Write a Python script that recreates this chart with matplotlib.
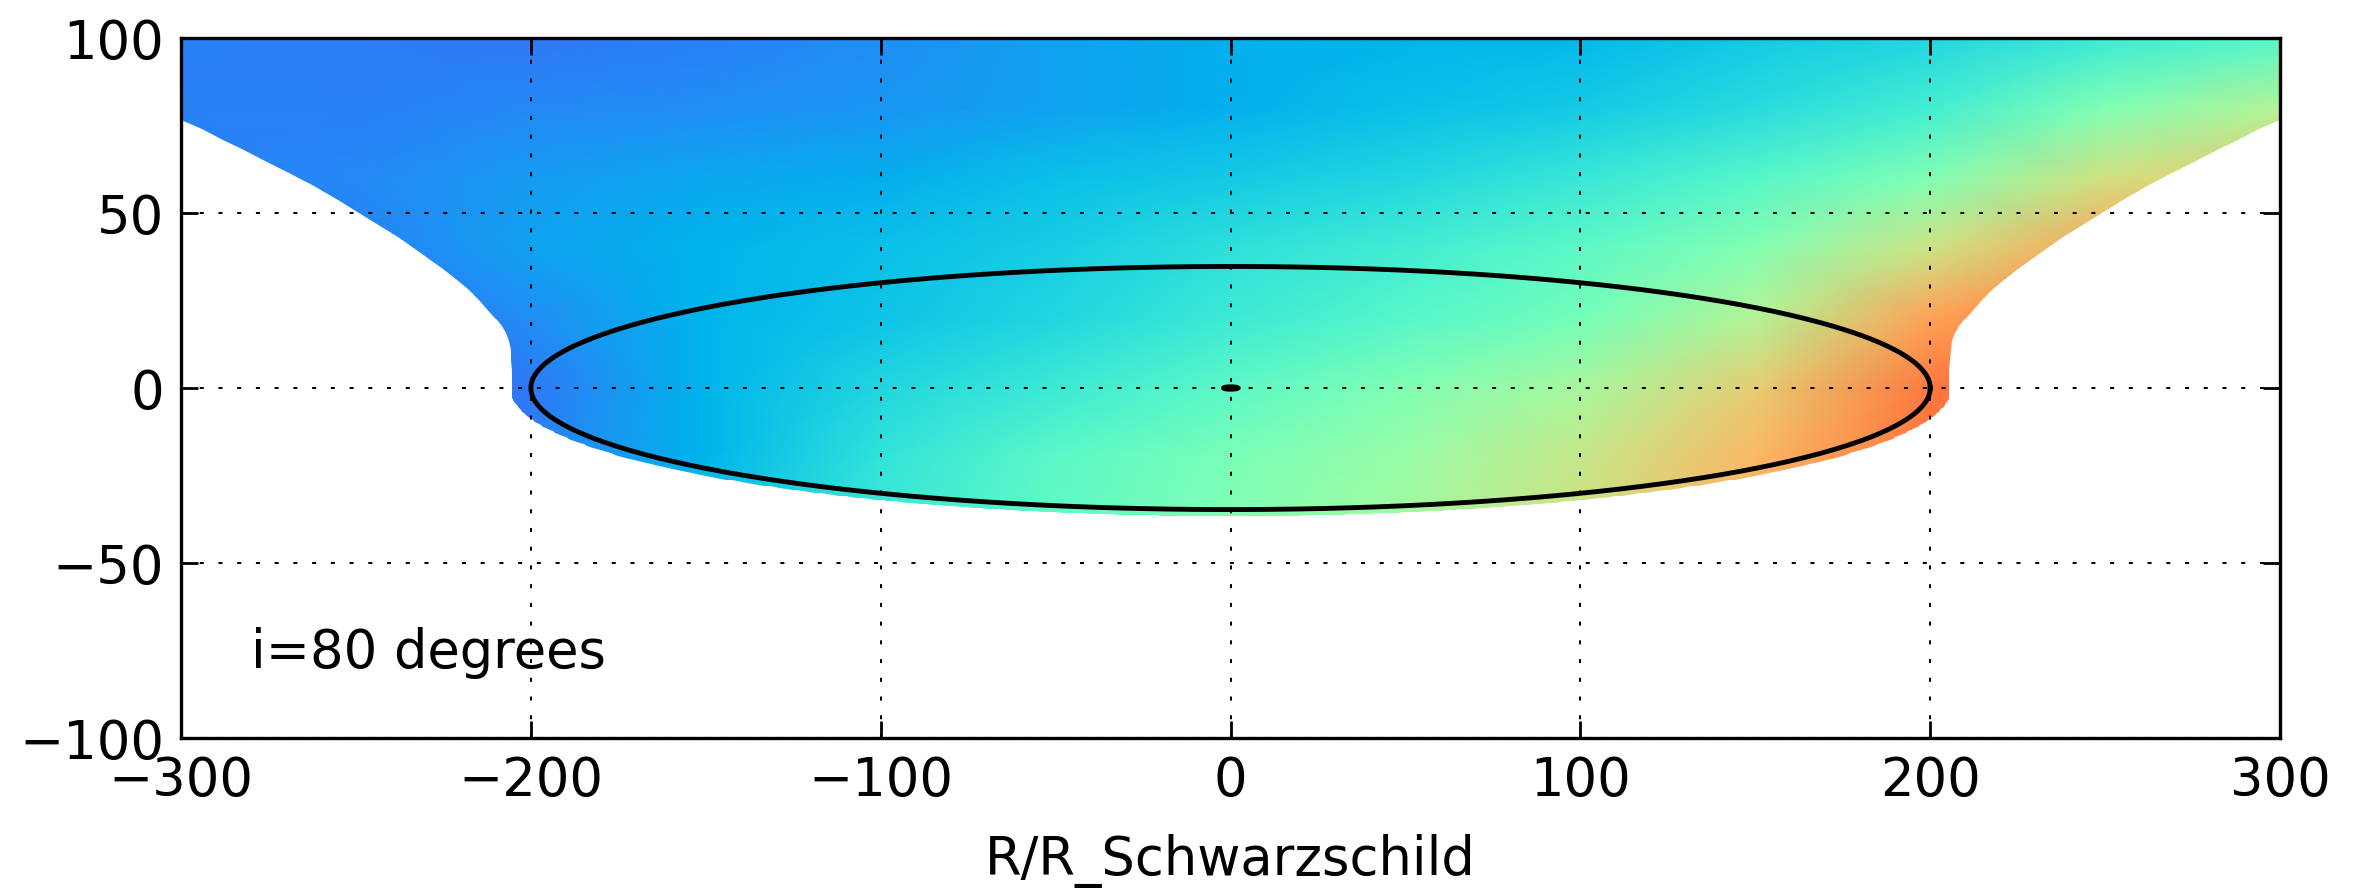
import numpy as np
import matplotlib
matplotlib.use('Agg')
import matplotlib.pyplot as plt
from matplotlib.path import Path
from matplotlib.patches import PathPatch

# viewing geometry
incl = 80.0           # inclination, degrees
ring_radius = 200.0   # reference ring, in R/R_Schwarzschild
hole_radius = 2.0     # small ring at the centre
rim_a = 206.0         # lower rim of the coloured image
rim_b = 36.6

# right-hand edge of the flared surface (the left one is its mirror)
flare_x = [205.4, 205.5, 205.6, 205.8, 206.3, 207.2, 208.3, 209.5, 211.0,
           213.0, 215.0, 218.0, 221.0, 225.0, 229.0, 233.0, 238.0, 243.0,
           249.0, 255.0, 262.0, 269.0, 276.0, 282.0, 288.0, 294.0, 300.0]
flare_y = [1.7, 5.0, 8.0, 11.0, 13.5, 15.8, 17.6, 19.2, 21.0,
           23.2, 25.3, 28.2, 30.9, 34.0, 37.0, 39.8, 43.2, 46.3,
           50.0, 53.6, 57.6, 61.3, 65.0, 68.0, 71.0, 73.9, 76.6]

# colour value (0..1 on the rainbow map) read at grid nodes
grid_x = [-300, -250, -200, -150, -100, -50, 0, 50, 100, 150, 200, 250, 300]
grid_y = [-40, -20, 0, 20, 40, 60, 80, 100]
shift = [
    [0.12, 0.12, 0.17, 0.28, 0.37, 0.44, 0.50, 0.57, 0.66, 0.76, 0.85, 0.88, 0.88],
    [0.12, 0.12, 0.17, 0.25, 0.35, 0.43, 0.49, 0.55, 0.64, 0.74, 0.85, 0.88, 0.88],
    [0.12, 0.12, 0.16, 0.25, 0.32, 0.37, 0.43, 0.50, 0.58, 0.70, 0.84, 0.88, 0.88],
    [0.14, 0.14, 0.19, 0.25, 0.28, 0.32, 0.37, 0.42, 0.48, 0.60, 0.78, 0.85, 0.85],
    [0.16, 0.17, 0.22, 0.25, 0.27, 0.30, 0.34, 0.38, 0.43, 0.51, 0.65, 0.78, 0.80],
    [0.17, 0.18, 0.21, 0.23, 0.24, 0.27, 0.29, 0.32, 0.36, 0.42, 0.50, 0.66, 0.72],
    [0.17, 0.17, 0.18, 0.19, 0.20, 0.22, 0.245, 0.27, 0.29, 0.33, 0.385, 0.50, 0.60],
    [0.17, 0.165, 0.16, 0.17, 0.19, 0.22, 0.245, 0.25, 0.26, 0.29, 0.32, 0.37, 0.42],
]

fs = 38
fig = plt.figure(figsize=(23.63, 8.88), dpi=100)
ax = fig.add_axes([0.0766, 0.1689, 0.8883, 0.7883])

gx, gy = np.meshgrid(grid_x, grid_y)
mesh = ax.pcolormesh(gx, gy, np.array(shift), cmap='rainbow', vmin=0, vmax=1,
                     shading='gouraud', zorder=1)

# outline of the image: left flare, lower rim, right flare, top
fx = np.array(flare_x)
fy = np.array(flare_y)
th0 = np.arccos(fx[0] / rim_a)
t = np.linspace(np.pi + th0, 2 * np.pi - th0, 300)
verts = (list(zip(-fx[::-1], fy[::-1]))
         + list(zip(rim_a * np.cos(t), rim_b * np.sin(t)))
         + list(zip(fx, fy))
         + [(310, 110), (-310, 110), (-fx[-1], fy[-1])])
outline = PathPatch(Path(verts, closed=True), transform=ax.transData,
                    facecolor='none', edgecolor='none')
ax.add_patch(outline)
mesh.set_clip_path(outline)

# rings
phi = np.linspace(0, 2 * np.pi, 500)
ci = np.cos(np.radians(incl))
ax.plot(ring_radius * np.cos(phi), ring_radius * ci * np.sin(phi), 'k-', lw=3.5, zorder=3)
ax.plot(hole_radius * np.cos(phi), hole_radius * ci * np.sin(phi), 'k-', lw=3.5, zorder=3)

ax.text(-280, -80, 'i=80 degrees', fontsize=fs)

ax.set_xlim(-300, 300)
ax.set_ylim(-100, 100)
ax.set_xticks(range(-300, 301, 100))
ax.set_yticks(range(-100, 101, 50))
ax.grid(True, color='k', linestyle=(0, (2, 7.3)), linewidth=1.45)
ax.set_axisbelow(False)
ax.tick_params(direction='in', length=12, width=2, top=True, right=True,
               labelsize=fs, pad=12)
for s in ax.spines.values():
    s.set_linewidth(2.4)
ax.set_xlabel('R/R_Schwarzschild', fontsize=fs, labelpad=20)

fig.savefig('out.png', dpi=100)
